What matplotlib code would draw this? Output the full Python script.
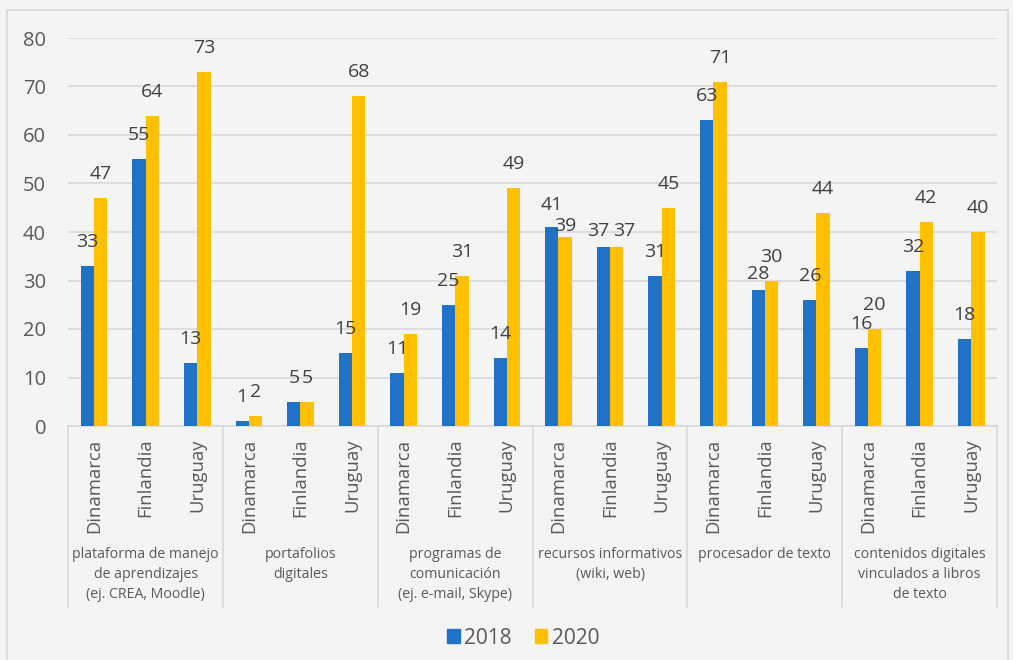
import numpy as np
import matplotlib.pyplot as plt
import matplotlib.patches as mpatches
import matplotlib.transforms as mtransforms

groups = [
    'plataforma de manejo\nde aprendizajes\n(ej. CREA, Moodle)',
    'portafolios\ndigitales',
    'programas de\ncomunicación\n(ej. e-mail, Skype)',
    'recursos informativos\n(wiki, web)',
    'procesador de texto',
    'contenidos digitales\nvinculados a libros\nde texto',
]
countries = ['Dinamarca', 'Finlandia', 'Uruguay']

v2018 = [33, 55, 13, 1, 5, 15, 11, 25, 14, 41, 37, 31, 63, 28, 26, 16, 32, 18]
v2020 = [47, 64, 73, 2, 5, 68, 19, 31, 49, 39, 37, 45, 71, 30, 44, 20, 42, 40]

BG = '#F4F4F4'
BLUE = '#1F72C6'
YELLOW = '#FFC000'
GRID = '#D9D9D9'
TICK = '#595959'
LABEL = '#404040'
FONT = 'Open Sans'

# labels that were nudged by hand in the original (index, series) -> (dx, dy) pixels
NUDGE = {
    (9, 0): (0, -2),
    (9, 1): (0, -13),
    (10, 0): (-5, -8),
    (10, 1): (7, -8),
    (13, 0): (0, -8),
}

plt.rcParams['font.family'] = FONT

fig = plt.figure(figsize=(10.13, 6.60), dpi=100)
fig.patch.set_facecolor(BG)
fig.patches.append(mpatches.Rectangle((7 / 1013, -0.01), 1001 / 1013, 1 - 10 / 660 + 0.01,
                                      transform=fig.transFigure, fill=False,
                                      edgecolor='#D9D9D9', linewidth=1.2))

ax = fig.add_axes([68.3 / 1013, (660 - 426) / 660, (997 - 68.3) / 1013, 388 / 660])
ax.set_facecolor(BG)

n = len(v2018)
x = np.arange(n) + 0.5
w = 0.258

ax.bar(x - w / 2, v2018, w, color=BLUE, zorder=3, label='2018')
ax.bar(x + w / 2, v2020, w, color=YELLOW, zorder=3, label='2020')

for i, (xi, a, b) in enumerate(zip(x, v2018, v2020)):
    for s, (xx, val) in enumerate([(xi - w / 2, a), (xi + w / 2, b)]):
        dx, dy = NUDGE.get((i, s), (0, 0))
        ax.annotate(str(val), (xx, val), xytext=(dx, 24 + dy), textcoords='offset pixels',
                    ha='center', va='center', fontsize=14, color=LABEL, zorder=4)

ax.set_xlim(0, n)
ax.set_ylim(0, 80)
ax.set_yticks(range(0, 81, 10))
ax.tick_params(axis='y', length=0, pad=16, labelsize=14.5, labelcolor=TICK)
ax.grid(axis='y', color=GRID, linewidth=1.2, zorder=0)

ax.set_xticks(x)
ax.set_xticklabels(countries * len(groups), rotation=90)
ax.tick_params(axis='x', length=0, pad=9, labelsize=13.3, labelcolor=TICK)

for s in ['top', 'right', 'left']:
    ax.spines[s].set_visible(False)
ax.spines['bottom'].set_color(GRID)
ax.spines['bottom'].set_linewidth(1.2)

trans = mtransforms.blended_transform_factory(ax.transData, ax.transAxes)
for k in range(len(groups) + 1):
    ax.plot([3 * k, 3 * k], [0, -181 / 388], transform=trans, color=GRID,
            linewidth=1.2, clip_on=False)

for k, g in enumerate(groups):
    ax.text(3 * k + 1.5, -121 / 388, g, transform=trans, ha='center', va='top',
            fontsize=10.2, color=TICK, linespacing=1.45)

handles = [mpatches.Patch(color=BLUE, label='2018'), mpatches.Patch(color=YELLOW, label='2020')]
leg = fig.legend(handles=handles, loc='center', bbox_to_anchor=(523 / 1013, 22 / 660), ncol=2,
                 frameon=False, fontsize=15, handlelength=0.62, handleheight=0.62,
                 handletextpad=0.2, columnspacing=1.1)
for t in leg.get_texts():
    t.set_color(TICK)

fig.savefig('out.png', dpi=100, facecolor=BG)
